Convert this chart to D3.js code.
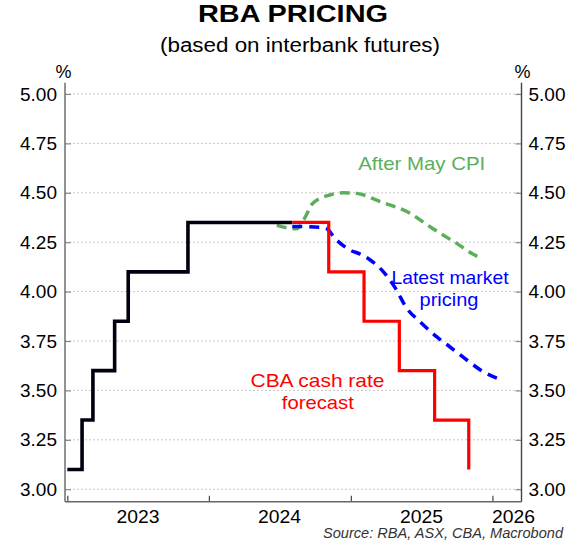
<!DOCTYPE html>
<html>
<head>
<meta charset="utf-8">
<script src="https://cdn.jsdelivr.net/npm/d3@7/dist/d3.min.js"></script>
<style>
  html, body { margin: 0; padding: 0; background: #fff; }
  svg { display: block; font-family: "Liberation Sans", Arial, sans-serif; }
</style>
</head>
<body>
<svg id="chart" width="582" height="553"></svg>
<script>
// ---------- DATA ----------
const yTicks = [3.00, 3.25, 3.50, 3.75, 4.00, 4.25, 4.50, 4.75, 5.00];
const yearTicks = ["2023-01-01", "2024-01-01", "2025-01-01", "2026-01-01"];
const yearLabels = ["2023", "2024", "2025", "2026"];

// Actual RBA cash rate (step series)
const actualDates  = ["2023-01-01", "2023-02-08", "2023-03-08", "2023-05-03", "2023-06-07", "2023-11-08", "2024-08-03"];
const actualValues = [3.10, 3.35, 3.60, 3.85, 4.10, 4.35, 4.35];

// CBA cash rate forecast (step series)
const cbaDates  = ["2024-08-03", "2024-11-05", "2025-02-04", "2025-05-06", "2025-08-05", "2025-11-01"];
const cbaValues = [4.35, 4.10, 3.85, 3.60, 3.35, 3.10];

// Market pricing after May CPI
const cpiDates  = ["2024-06-24", "2024-08-14", "2024-09-04", "2024-09-25", "2024-11-08", "2024-12-12", "2025-01-16", "2025-03-18", "2025-06-03", "2025-07-24", "2025-10-01", "2025-11-25", "2025-12-05"];
const cpiValues = [4.335, 4.318, 4.372, 4.447, 4.489, 4.500, 4.497, 4.455, 4.396, 4.328, 4.244, 4.177, 4.170];

// Latest market pricing
const mktDates  = ["2024-08-03", "2024-10-26", "2024-11-25", "2024-12-30", "2025-01-25", "2025-02-20", "2025-03-26", "2025-04-25", "2025-05-25", "2025-06-28", "2025-08-10", "2025-09-13", "2025-10-27", "2025-12-08", "2026-01-25"];
const mktValues = [4.33, 4.323, 4.261, 4.21, 4.19, 4.16, 4.10, 4.02, 3.916, 3.848, 3.772, 3.721, 3.654, 3.595, 3.553];

// ---------- SETUP ----------
const parse = d3.timeParse("%Y-%m-%d");
const zip = (ds, vs) => ds.map((d, i) => ({ date: parse(d), value: vs[i] }));

const svg = d3.select("#chart");
const L = 65, R = 521.5, T = 82.7, B = 501.7;

const x = d3.scaleTime()
  .domain([parse("2022-12-26"), parse("2026-03-17")])
  .range([L, R]);
const y = d3.scaleLinear()
  .domain([2.937, 5.057])
  .range([B, T]);

const fontFam = "'Liberation Sans', Arial, sans-serif";

function label(txt, cx, cy, size, color, len, extra) {
  const t = svg.append("text").attr("x", cx).attr("y", cy).attr("text-anchor", "middle")
    .attr("font-size", size).attr("fill", color).text(txt);
  if (len) t.attr("textLength", len).attr("lengthAdjust", "spacingAndGlyphs");
  if (extra) extra(t);
  return t;
}

// Title
label("RBA PRICING", 293, 22, 24, "#000", 190, t => t.attr("font-weight", "bold"));
label("(based on interbank futures)", 300, 52, 19.5, "#000", 280);

// Gridlines
svg.append("g").selectAll("line").data(yTicks).join("line")
  .attr("x1", L).attr("x2", R)
  .attr("y1", d => y(d)).attr("y2", d => y(d))
  .attr("stroke", "#c8c8c8").attr("stroke-width", 1).attr("stroke-dasharray", "2,2");

// Left axis
const leftAxis = svg.append("g").attr("transform", `translate(${L},0)`)
  .call(d3.axisLeft(y).tickValues(yTicks).tickFormat(d3.format(".2f")).tickSize(-6).tickPadding(8));
// Right axis
const rightAxis = svg.append("g").attr("transform", `translate(${R},0)`)
  .call(d3.axisRight(y).tickValues(yTicks).tickFormat(d3.format(".2f")).tickSize(-6).tickPadding(7));
[leftAxis, rightAxis].forEach(g => {
  g.select(".domain").remove();
  g.selectAll(".tick line").attr("stroke", "#888").attr("stroke-width", 1.2);
  g.selectAll(".tick text").attr("font-size", 19).attr("fill", "#000").attr("font-family", fontFam);
});
// Bottom axis (tick marks only)
const bottomAxis = svg.append("g").attr("transform", `translate(0,${B})`)
  .call(d3.axisBottom(x).tickValues(yearTicks.map(parse)).tickSize(-6).tickFormat(""));
bottomAxis.select(".domain").remove();
bottomAxis.selectAll(".tick line").attr("stroke", "#444").attr("stroke-width", 1.2);

// Axis frame lines
svg.append("line").attr("x1", L).attr("x2", L).attr("y1", T).attr("y2", B)
  .attr("stroke", "#777").attr("stroke-width", 1.6);
svg.append("line").attr("x1", R).attr("x2", R).attr("y1", T).attr("y2", B)
  .attr("stroke", "#444").attr("stroke-width", 1.4);
svg.append("line").attr("x1", L).attr("x2", R).attr("y1", B).attr("y2", B)
  .attr("stroke", "#666").attr("stroke-width", 1.6);

// Year labels (centred within each year; last one starts at its tick)
yearLabels.forEach((lab, i) => {
  const start = parse(yearTicks[i]);
  const mid = d3.timeDay.offset(start, 182);
  let cx = x(mid);
  if (cx > R) cx = x(start) + 21;
  label(lab, cx, 523, 19, "#000", 43);
});

// % labels
label("%", 63.5, 78, 18, "#000");
label("%", 522.5, 78, 18, "#000");

// Source
svg.append("text").attr("x", 563).attr("y", 538).attr("text-anchor", "end")
  .attr("font-size", 14).attr("font-style", "italic").attr("fill", "#333")
  .attr("textLength", 240).attr("lengthAdjust", "spacingAndGlyphs")
  .text("Source: RBA, ASX, CBA, Macrobond");

// Lines
const stepLine = d3.line().x(d => x(d.date)).y(d => y(d.value)).curve(d3.curveStepAfter);
const smoothLine = d3.line().x(d => x(d.date)).y(d => y(d.value)).curve(d3.curveMonotoneX);

svg.append("path").datum(zip(cpiDates, cpiValues)).attr("d", smoothLine)
  .attr("fill", "none").attr("stroke", "#5BAF5B").attr("stroke-width", 3.5)
  .attr("stroke-dasharray", "10,6");
svg.append("path").datum(zip(mktDates, mktValues)).attr("d", smoothLine)
  .attr("fill", "none").attr("stroke", "#0000FF").attr("stroke-width", 3.5)
  .attr("stroke-dasharray", "10,7");
svg.append("path").datum(zip(actualDates, actualValues)).attr("d", stepLine)
  .attr("fill", "none").attr("stroke", "#000010").attr("stroke-width", 3.6);
svg.append("path").datum(zip(cbaDates, cbaValues)).attr("d", stepLine)
  .attr("fill", "none").attr("stroke", "#FF0000").attr("stroke-width", 3.2);

// Series labels
label("After May CPI", 421.7, 170, 19, "#5BAF5B", 127);
label("Latest market", 450, 284, 19, "#0000FF", 117);
label("pricing", 449, 306, 19, "#0000FF", 59);
label("CBA cash rate", 317.5, 387, 19, "#FF0000", 134);
label("forecast", 317.8, 408.5, 19, "#FF0000", 72);
</script>
</body>
</html>
